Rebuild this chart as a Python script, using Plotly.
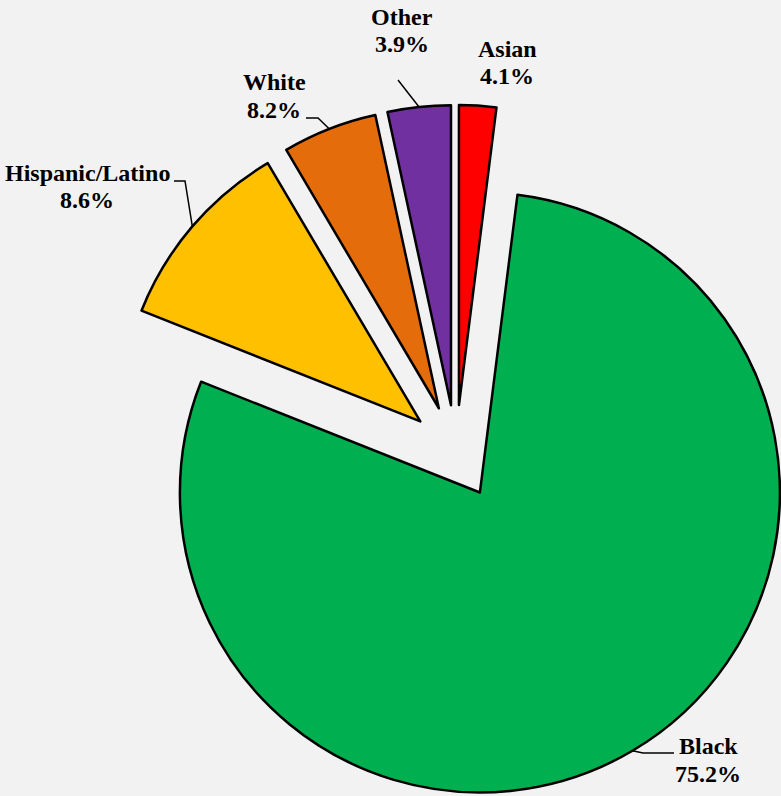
import math
import plotly.graph_objects as go

# ---- data ----
groups = ["Asian", "Black", "Hispanic/Latino", "White", "Other"]
slice_share = [2.0, 79.1, 10.5, 5.1, 3.4]        # drawn slice sizes (% of circle)
label_pct = [4.1, 75.2, 8.6, 8.2, 3.9]           # percentages printed on the labels
colors = ["#FF0000", "#00B050", "#FFC000", "#E46C0A", "#7030A0"]

# ---- layout constants (pixels) ----
W, H = 781, 796
CX, CY = 456, 452      # common pie centre
R = 300                # radius
EXPLODE = 47           # explosion distance of every slice
FS = 24
# label: (centre x, baseline of first line, baseline of second line)
label_pos = {
    "Asian": (507, 57, 84),
    "Black": (708, 754, 782),
    "Hispanic/Latino": (87, 181, 208),
    "White": (274, 90, 118),
    "Other": (402, 25, 52),
}
# extra leader-line points after the slice edge point (pixels)
leader_pts = {
    "Black": [(643, 753), (674, 753)],
    "Hispanic/Latino": [(185, 181), (174, 181)],
    "White": [(318, 118), (306, 118)],
    "Other": [(398, 80)],
}
FONT = dict(family="Liberation Serif, Times New Roman, serif", size=FS, color="black")


def px(x, y):
    return x / W, 1 - y / H


fig = go.Figure()
annotations = []
shapes = []
total = sum(slice_share)
start = 0.0
for i, g in enumerate(groups):
    span = slice_share[i] / total * 360.0
    mid = math.radians(start + span / 2.0)
    start += span
    cx = CX + EXPLODE * math.sin(mid)
    cy = CY - EXPLODE * math.cos(mid)
    fig.add_trace(go.Pie(
        values=slice_share,
        labels=groups,
        sort=False,
        direction="clockwise",
        rotation=0,
        textinfo="none",
        hoverinfo="label",
        showlegend=False,
        marker=dict(
            colors=[c if j == i else "rgba(0,0,0,0)" for j, c in enumerate(colors)],
            line=dict(color="black",
                      width=[2.5 if j == i else 0 for j in range(len(groups))]),
        ),
        domain=dict(x=[(cx - R) / W, (cx + R) / W],
                    y=[1 - (cy + R) / H, 1 - (cy - R) / H]),
    ))
    lx, b1, b2 = label_pos[g]
    for txt, base in ((f"<b>{g}</b>", b1), (f"<b>{label_pct[i]:.1f}%</b>", b2)):
        x, y = px(lx, base - 0.33 * FS)
        annotations.append(dict(
            x=x, y=y, xref="paper", yref="paper", text=txt, showarrow=False,
            xanchor="center", yanchor="middle", font=FONT))
    if g in leader_pts:
        tx = cx + R * math.sin(mid)
        ty = cy - R * math.cos(mid)
        pts = [(tx, ty)] + leader_pts[g]
        path = ""
        for k, (a, b) in enumerate(pts):
            u, v = px(a, b)
            path += ("M" if k == 0 else " L") + f"{u:.5f},{v:.5f}"
        shapes.append(dict(type="path", xref="paper", yref="paper", path=path,
                           line=dict(color="black", width=1.5)))

fig.update_layout(
    width=W, height=H, autosize=False,
    margin=dict(l=0, r=0, t=0, b=0),
    paper_bgcolor="#F2F2F2",
    plot_bgcolor="#F2F2F2",
    annotations=annotations,
    shapes=shapes,
)
fig.write_html(
    "out.html",
    config={"displayModeBar": False},
    post_script="document.body.style.margin='0';document.body.style.overflow='hidden';",
)
